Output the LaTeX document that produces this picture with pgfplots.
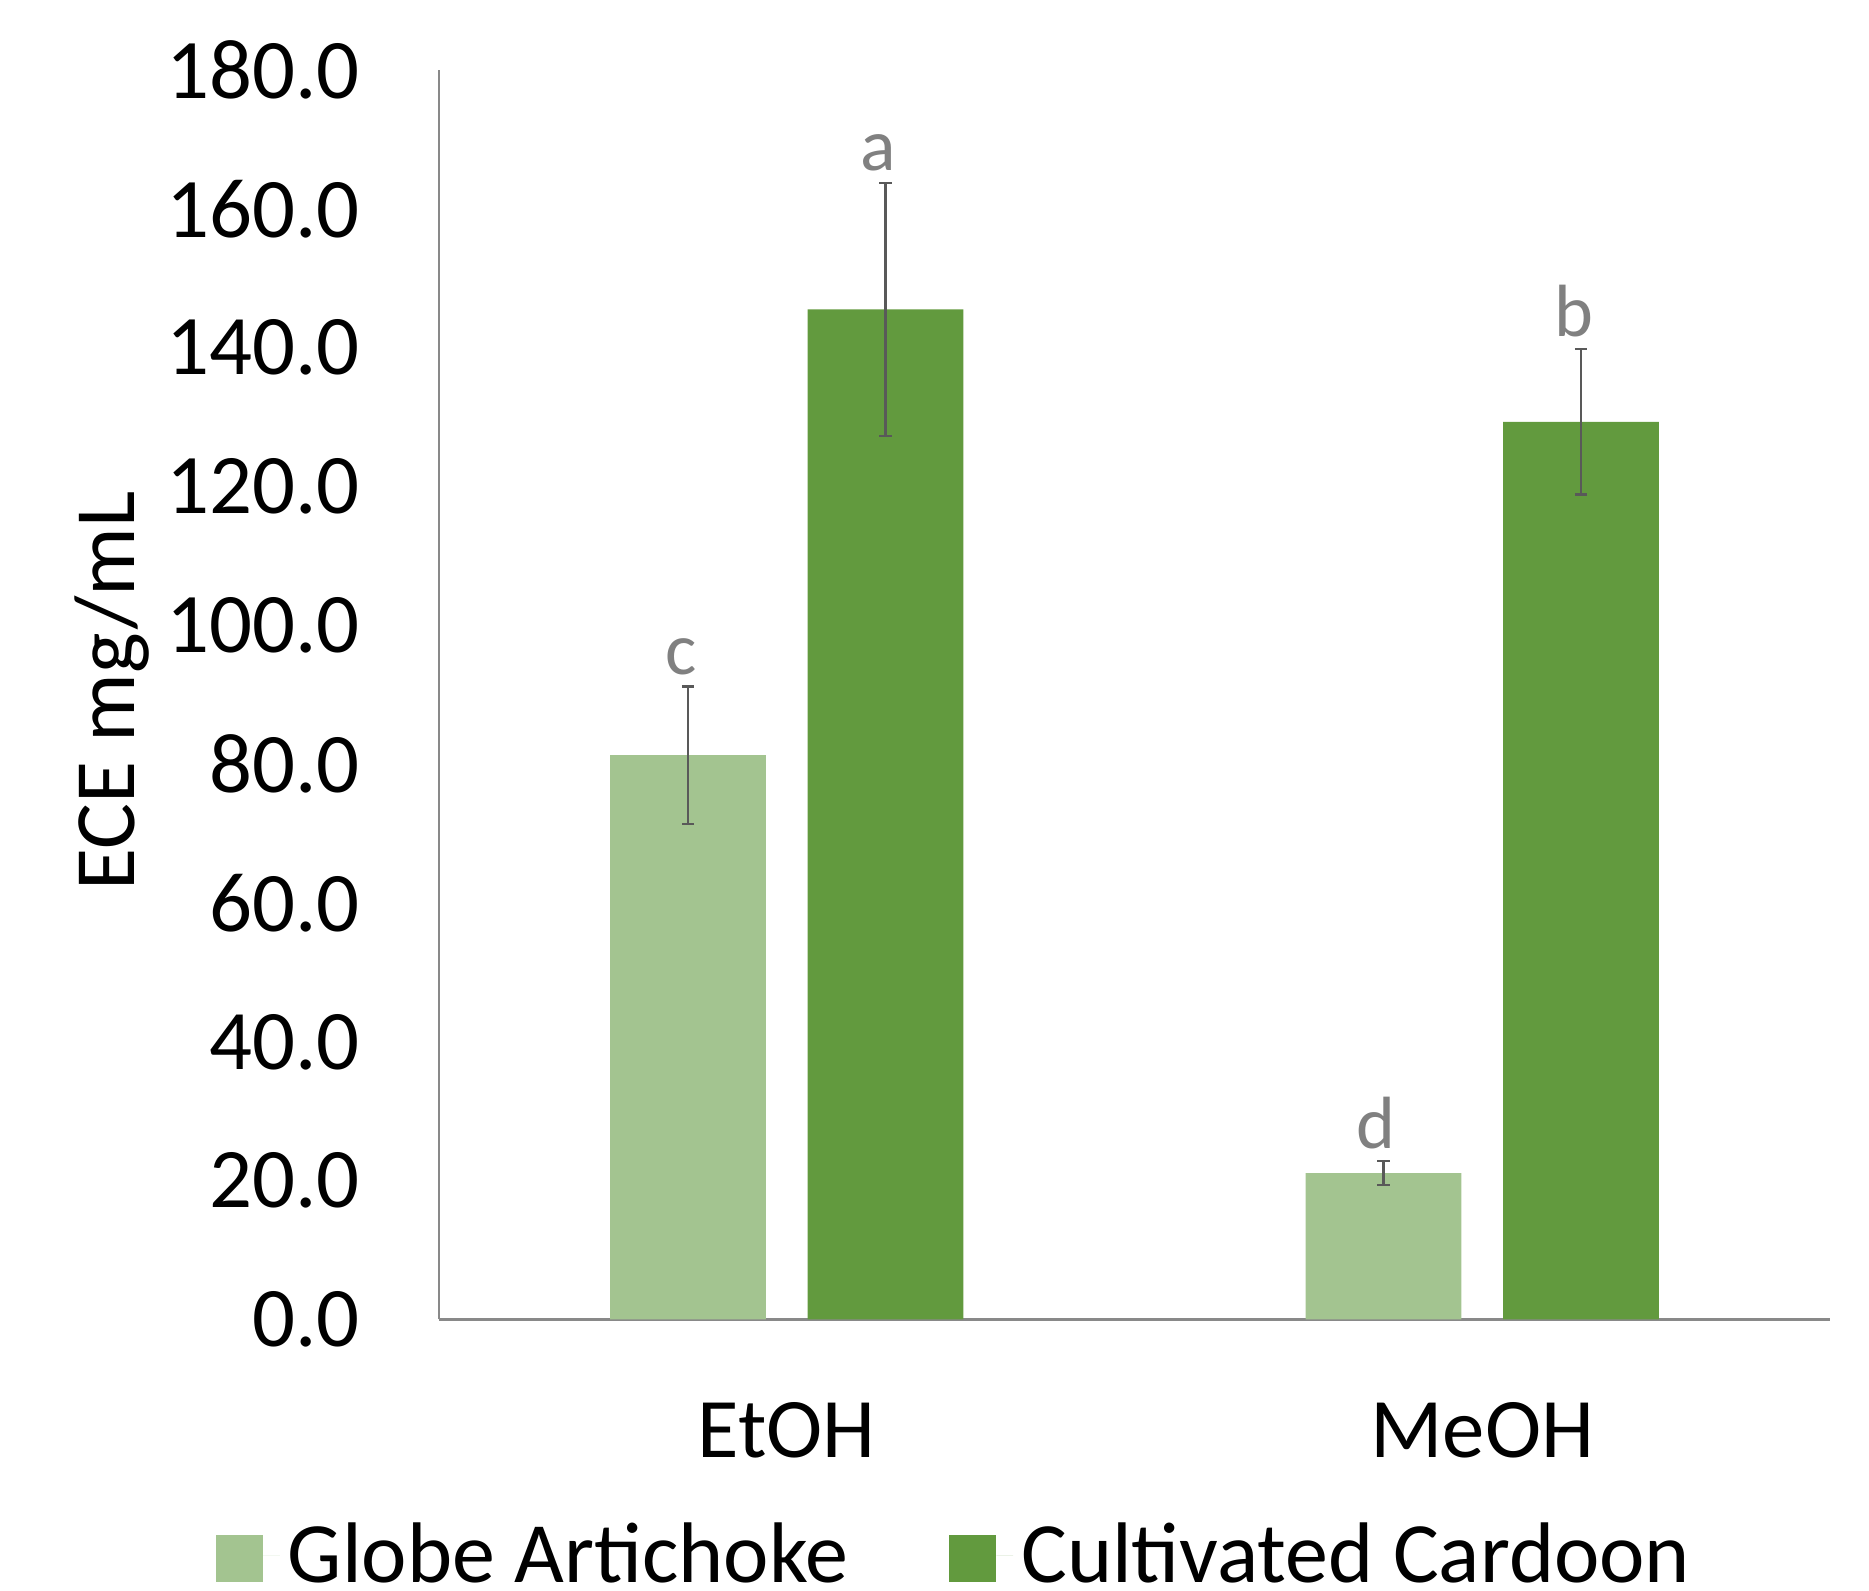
\documentclass[border=0pt]{standalone}
\usepackage{pgfplots}
\pgfplotsset{compat=1.18}
\usepackage{fontspec}
\setmainfont{Carlito}

\definecolor{artichoke}{HTML}{A3C490}
\definecolor{cardoon}{HTML}{629A3E}
\definecolor{axisgray}{HTML}{898989}
\definecolor{errgray}{HTML}{595959}
\definecolor{lettergray}{HTML}{808080}

\begin{document}
\begin{tikzpicture}
\path[use as bounding box] (-109.75pt,-67.875pt) rectangle (357.5pt,329.875pt);
\begin{axis}[
  scale only axis,
  width=347.75pt, height=312.375pt,
  xmin=-0.5, xmax=1.5, ymin=0, ymax=180,
  axis x line=bottom, axis y line=left,
  axis line style={draw=axisgray, line width=0.55pt, -},
  major tick length=0pt,
  ytick={0,20,...,180},
  xtick={0,1}, xticklabels={EtOH,MeOH},
  yticklabel style={
    /pgf/number format/.cd, fixed, fixed zerofill, precision=1, assume math mode=true,
    /tikz/.cd, font=\fontsize{21.2pt}{25pt}\selectfont, anchor=east, inner sep=0pt, xshift=-19.6pt},
  xticklabel style={font=\fontsize{21.2pt}{25pt}\selectfont, anchor=base, inner sep=0pt, yshift=-34.4pt},
  ylabel={ECE mg/mL},
  ylabel style={font=\fontsize{21.5pt}{25pt}\selectfont, at={(axis description cs:-0.2186,0.503)}, anchor=base, inner sep=0pt},
  legend style={
    draw=none, fill=none,
    at={(axis description cs:0.3725,-0.189)}, anchor=center,
    font=\fontsize{21.5pt}{25pt}\selectfont,
    legend columns=2,
    /tikz/every even column/.append style={column sep=23.25pt},
  },
  legend image code/.code={%
    \fill[#1] (0pt,-6.65pt) rectangle (11.75pt,5.1pt);
    \path[draw=none] (11.75pt,0pt) -- (15.95pt,0pt);},
  error bars/error bar style={draw=errgray, line width=0.55pt},
  error bars/error mark options={rotate=90, mark size=1.55pt, draw=errgray, line width=0.55pt},
]
% Globe Artichoke (bars sit left of each category centre)
\addplot[ybar, bar width=0.224, bar shift=0pt, fill=artichoke, draw=none,
  error bars/.cd, y dir=both, y explicit]
  coordinates {(-0.142,81.3) +- (0,9.9) (0.858,21.1) +- (0,1.75)};
\addlegendentry{Globe Artichoke}
% Cultivated Cardoon (bars sit right of each category centre)
\addplot[ybar, bar width=0.224, bar shift=0pt, fill=cardoon, draw=none,
  error bars/.cd, y dir=both, y explicit]
  coordinates {(0.142,145.5) +- (0,18.2) (1.142,129.3) +- (0,10.45)};
\addlegendentry{Cultivated Cardoon}
% significance letters above the error bars
\addplot[draw=none, mark=none, forget plot,
  nodes near coords, point meta=explicit symbolic,
  every node near coord/.append style={anchor=base, inner sep=0pt, yshift=3.1pt, xshift=-1.8pt,
    text=lettergray, font=\fontsize{18.5pt}{22pt}\selectfont}]
  coordinates {(-0.142,91.2) [c] (0.858,22.85) [d] (0.142,163.7) [a] (1.142,139.75) [b]};
\end{axis}
\end{tikzpicture}
\end{document}
